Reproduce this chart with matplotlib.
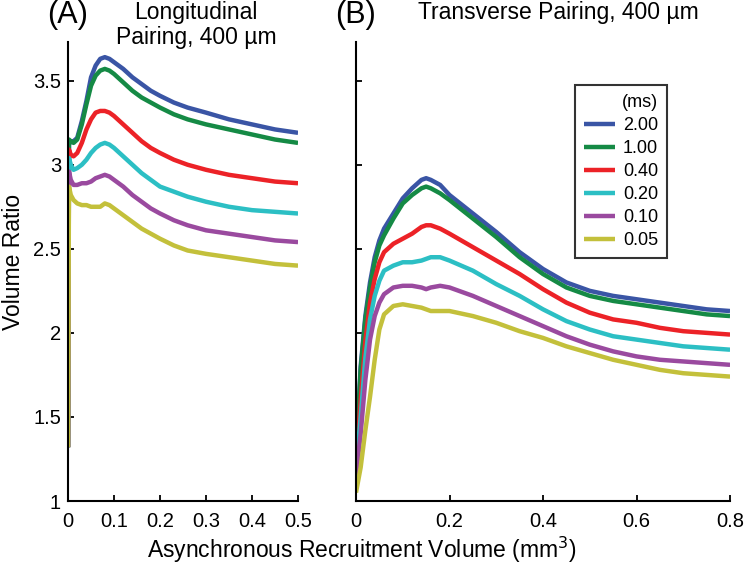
import matplotlib.pyplot as plt

plt.rcParams['font.family'] = ['Liberation Sans', 'DejaVu Sans']

durations = ['2.00', '1.00', '0.40', '0.20', '0.10', '0.05']
colors = ['#3a55a5', '#158a45', '#ec2227', '#2cbfc4', '#9a4a9f', '#c3c03b']

# Panel A: longitudinal pairing
xa = [0, 0.002, 0.006, 0.012, 0.02, 0.03, 0.04, 0.05, 0.06, 0.07, 0.08, 0.09, 0.1,
      0.12, 0.14, 0.16, 0.18, 0.2, 0.23, 0.26, 0.3, 0.35, 0.4, 0.45, 0.5]
ya = [
    [1.32, 3.12, 3.14, 3.14, 3.16, 3.26, 3.38, 3.52, 3.59, 3.63, 3.64, 3.63, 3.61,
     3.57, 3.52, 3.48, 3.44, 3.41, 3.37, 3.34, 3.31, 3.27, 3.24, 3.21, 3.19],
    [1.32, 3.15, 3.14, 3.13, 3.15, 3.24, 3.36, 3.47, 3.53, 3.56, 3.57, 3.56, 3.54,
     3.49, 3.44, 3.40, 3.37, 3.34, 3.30, 3.27, 3.24, 3.21, 3.18, 3.15, 3.13],
    [1.32, 3.09, 3.06, 3.05, 3.07, 3.13, 3.21, 3.27, 3.31, 3.32, 3.32, 3.31, 3.29,
     3.24, 3.19, 3.14, 3.10, 3.07, 3.03, 3.00, 2.97, 2.94, 2.92, 2.90, 2.89],
    [1.32, 3.04, 3.00, 2.97, 2.98, 3.00, 3.03, 3.07, 3.10, 3.12, 3.13, 3.12, 3.10,
     3.05, 3.00, 2.95, 2.91, 2.87, 2.84, 2.81, 2.78, 2.75, 2.73, 2.72, 2.71],
    [1.32, 2.96, 2.91, 2.88, 2.88, 2.89, 2.89, 2.90, 2.92, 2.93, 2.94, 2.93, 2.91,
     2.87, 2.82, 2.78, 2.74, 2.71, 2.67, 2.64, 2.61, 2.59, 2.57, 2.55, 2.54],
    [1.32, 2.87, 2.82, 2.79, 2.77, 2.76, 2.76, 2.75, 2.75, 2.75, 2.77, 2.76, 2.74,
     2.70, 2.66, 2.62, 2.59, 2.56, 2.52, 2.49, 2.47, 2.45, 2.43, 2.41, 2.40],
]

# Panel B: transverse pairing
xb = [0, 0.01, 0.02, 0.03, 0.04, 0.05, 0.06, 0.08, 0.1, 0.12, 0.14, 0.15, 0.16, 0.18,
      0.2, 0.25, 0.3, 0.35, 0.4, 0.45, 0.5, 0.55, 0.6, 0.65, 0.7, 0.75, 0.8]
yb = [
    [1.24, 1.80, 2.10, 2.30, 2.45, 2.55, 2.62, 2.71, 2.80, 2.86, 2.91, 2.92, 2.91, 2.88,
     2.82, 2.71, 2.60, 2.48, 2.38, 2.30, 2.25, 2.22, 2.20, 2.18, 2.16, 2.14, 2.13],
    [1.24, 1.78, 2.08, 2.27, 2.42, 2.52, 2.58, 2.68, 2.77, 2.82, 2.86, 2.87, 2.86, 2.83,
     2.79, 2.68, 2.57, 2.45, 2.35, 2.27, 2.22, 2.19, 2.17, 2.15, 2.13, 2.11, 2.10],
    [1.22, 1.60, 1.95, 2.18, 2.32, 2.42, 2.48, 2.53, 2.56, 2.59, 2.63, 2.64, 2.64, 2.62,
     2.59, 2.51, 2.43, 2.35, 2.26, 2.18, 2.12, 2.08, 2.06, 2.03, 2.01, 2.00, 1.99],
    [1.20, 1.50, 1.85, 2.08, 2.22, 2.31, 2.37, 2.40, 2.42, 2.42, 2.43, 2.44, 2.45, 2.45,
     2.43, 2.37, 2.29, 2.22, 2.14, 2.07, 2.02, 1.98, 1.96, 1.94, 1.92, 1.91, 1.90],
    [1.15, 1.40, 1.72, 1.96, 2.10, 2.18, 2.23, 2.27, 2.28, 2.28, 2.27, 2.26, 2.27, 2.28,
     2.27, 2.22, 2.16, 2.10, 2.04, 1.98, 1.93, 1.89, 1.86, 1.84, 1.83, 1.82, 1.81],
    [1.05, 1.20, 1.42, 1.62, 1.84, 2.02, 2.11, 2.16, 2.17, 2.16, 2.15, 2.14, 2.13, 2.13,
     2.13, 2.10, 2.06, 2.01, 1.97, 1.92, 1.88, 1.84, 1.81, 1.78, 1.76, 1.75, 1.74],
]

fig = plt.figure(figsize=(7.46, 5.64), dpi=100)
bottom, top = 0.1117, 0.9255
ax_a = fig.add_axes([0.0912, bottom, 0.3083, top - bottom])
ax_b = fig.add_axes([0.4772, bottom, 0.5014, top - bottom])

for ax in (ax_a, ax_b):
    ax.spines['top'].set_visible(False)
    ax.spines['right'].set_visible(False)
    for s in ('left', 'bottom'):
        ax.spines[s].set_linewidth(1.5)
    ax.tick_params(direction='in', length=4, width=1.3, labelsize=14.5, pad=5)
    ax.tick_params(axis='x', pad=8)
    ax.set_ylim(1, 3.73)
    ax.set_yticks([1, 1.5, 2, 2.5, 3, 3.5])

for y, c in zip(ya, colors):
    ax_a.plot(xa, y, color=c, lw=3.2, solid_capstyle='butt')
ax_a.set_xlim(0, 0.5)
ax_a.set_xticks([0, 0.1, 0.2, 0.3, 0.4, 0.5])
ax_a.set_xticklabels(['0', '0.1', '0.2', '0.3', '0.4', '0.5'])
ax_a.set_yticklabels(['1', '1.5', '2', '2.5', '3', '3.5'])

lines = []
for y, c, d in zip(yb, colors, durations):
    ln, = ax_b.plot(xb, y, color=c, lw=3.2, solid_capstyle='butt', label=d)
    lines.append(ln)
ax_b.set_xlim(0, 0.8)
ax_b.set_xticks([0, 0.2, 0.4, 0.6, 0.8])
ax_b.set_xticklabels(['0', '0.2', '0.4', '0.6', '0.8'])
ax_b.set_yticklabels([])

leg = ax_b.legend(handles=lines, title='(ms)', loc='upper left',
                  bbox_to_anchor=(0.586, 0.906), borderaxespad=0, fontsize=13,
                  title_fontsize=13, frameon=True, fancybox=False, edgecolor='black',
                  handlelength=1.7, handletextpad=0.45, labelspacing=0.33, borderpad=0.5)
leg.get_frame().set_linewidth(1.5)
leg._legend_box.align = 'right'

fig.text(0.090, 0.973, '(A)', fontsize=22, va='center', ha='center')
fig.text(0.263, 0.977, 'Longitudinal', fontsize=16.5, va='center', ha='center')
fig.text(0.263, 0.933, 'Pairing, 400 µm', fontsize=16.5, va='center', ha='center')
fig.text(0.476, 0.973, '(B)', fontsize=22, va='center', ha='center')
fig.text(0.749, 0.977, 'Transverse Pairing, 400 µm', fontsize=16.5, va='center',
         ha='center')
fig.text(0.485, 0.025, 'Asynchronous Recruitment Volume (mm$^3$)', fontsize=16.5,
         va='center', ha='center')
fig.text(0.018, 0.535, 'Volume Ratio', fontsize=16.5, va='center', ha='center',
         rotation=90)

fig.savefig('out.png', dpi=100)
